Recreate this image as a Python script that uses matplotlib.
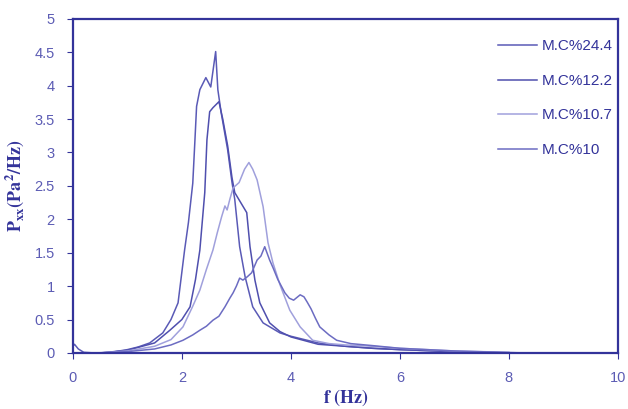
import matplotlib
matplotlib.use('Agg')
import matplotlib.pyplot as plt

# Power spectral density curves for four moisture contents
labels = ['M.C%24.4', 'M.C%12.2', 'M.C%10.7', 'M.C%10']

f_mc244 = [0.0, 0.03, 0.1, 0.2, 0.4, 0.7, 1.0, 1.2, 1.41, 1.65, 1.8, 1.93, 2.05, 2.12,
           2.2, 2.24, 2.27, 2.33, 2.44, 2.53, 2.62, 2.66, 2.72, 2.84, 2.92, 2.97,
           3.06, 3.16, 3.3, 3.49, 3.8, 4.0, 4.5, 5.0, 5.5, 6.0, 7.0, 8.0]
p_mc244 = [0.1, 0.13, 0.06, 0.01, 0.0, 0.01, 0.05, 0.09, 0.15, 0.3, 0.5, 0.75, 1.54, 1.95,
           2.54, 3.19, 3.69, 3.94, 4.12, 3.98, 4.51, 3.94, 3.6, 3.04, 2.55, 2.3,
           1.59, 1.14, 0.69, 0.45, 0.3, 0.25, 0.15, 0.1, 0.07, 0.05, 0.02, 0.0]

f_mc122 = [0.5, 1.0, 1.5, 1.78, 2.0, 2.15, 2.25, 2.33, 2.42, 2.46, 2.51, 2.57, 2.68,
           2.75, 2.84, 2.92, 2.97, 3.08, 3.19, 3.25, 3.34, 3.43, 3.61, 3.8, 4.0, 4.5,
           5.0, 5.5, 6.0, 7.0, 8.0]
p_mc122 = [0.0, 0.04, 0.15, 0.34, 0.5, 0.69, 1.1, 1.54, 2.4, 3.19, 3.61, 3.67, 3.76,
           3.5, 3.1, 2.62, 2.4, 2.25, 2.1, 1.59, 1.09, 0.75, 0.45, 0.32, 0.24, 0.13,
           0.1, 0.07, 0.05, 0.02, 0.0]

f_mc107 = [0.5, 1.0, 1.5, 1.8, 2.02, 2.2, 2.33, 2.45, 2.57, 2.65, 2.73, 2.79, 2.83,
           2.88, 2.94, 3.05, 3.15, 3.23, 3.3, 3.38, 3.49, 3.58, 3.67, 3.8, 3.98, 4.17,
           4.4, 4.7, 5.0, 5.5, 6.0, 7.0, 8.0]
p_mc107 = [0.0, 0.03, 0.1, 0.2, 0.39, 0.7, 0.94, 1.25, 1.54, 1.8, 2.04, 2.2, 2.14,
           2.3, 2.47, 2.55, 2.75, 2.85, 2.75, 2.59, 2.19, 1.65, 1.35, 1.02, 0.64, 0.39,
           0.19, 0.14, 0.12, 0.1, 0.07, 0.03, 0.01]

f_mc10 = [0.5, 1.0, 1.5, 1.8, 2.02, 2.2, 2.33, 2.45, 2.57, 2.68, 2.79, 2.88, 2.94, 3.0,
          3.06, 3.12, 3.2, 3.28, 3.38, 3.45, 3.52, 3.61, 3.67, 3.76, 3.89, 3.97, 4.05,
          4.17, 4.24, 4.3, 4.37, 4.45, 4.53, 4.7, 4.84, 5.1, 5.5, 6.0, 7.0, 8.3]
p_mc10 = [0.0, 0.02, 0.06, 0.12, 0.19, 0.27, 0.34, 0.4, 0.49, 0.55, 0.69, 0.82, 0.9, 1.0,
          1.12, 1.09, 1.14, 1.2, 1.39, 1.45, 1.59, 1.39, 1.28, 1.1, 0.9, 0.82, 0.79,
          0.87, 0.84, 0.76, 0.66, 0.52, 0.39, 0.27, 0.19, 0.14, 0.11, 0.07, 0.03, 0.0]

x_ticks = [0, 2, 4, 6, 8, 10]
y_ticks = [0, 0.5, 1, 1.5, 2, 2.5, 3, 3.5, 4, 4.5, 5]

axis_col = '#33339a'
tick_col = '#5c5cb4'
line_cols = ['#5a5ab6', '#4f4fae', '#a0a0dc', '#6c6cc2']

plt.rcParams['mathtext.fontset'] = 'stix'

fig = plt.figure(figsize=(6.28, 4.09), dpi=100)
ax = fig.add_axes([0.116, 0.137, 0.868, 0.817])

series = [(f_mc244, p_mc244), (f_mc122, p_mc122), (f_mc107, p_mc107), (f_mc10, p_mc10)]
for (f, p), lab, c in zip(series, labels, line_cols):
    ax.plot(f, p, color=c, lw=1.1, label=lab)

ax.set_xlim(0, 10)
ax.set_ylim(0, 5)
ax.set_xticks(x_ticks)
ax.set_xticklabels([str(t) for t in x_ticks])
ax.set_yticks(y_ticks)
ax.set_yticklabels(['%g' % t for t in y_ticks])

for s in ax.spines.values():
    s.set_color(axis_col)
    s.set_linewidth(1.6)
ax.tick_params(direction='out', length=4, width=0.8, color=axis_col,
               labelcolor=tick_col, labelsize=10.5, pad=9)
for lbl in ax.get_xticklabels() + ax.get_yticklabels():
    lbl.set_family('Liberation Sans')

ax.set_xlabel(r'$\mathbf{f\ (Hz)}$', color=axis_col, fontsize=13, labelpad=2)
ax.set_ylabel(r'$\mathbf{P_{xx}(Pa^2/Hz)}$', color=axis_col, fontsize=13, labelpad=6)

leg = ax.legend(loc='upper right', bbox_to_anchor=(1.016, 0.98), frameon=False,
                handlelength=2.6, handletextpad=0.3, labelspacing=1.35,
                prop={'family': 'Liberation Sans', 'size': 11})
for t in leg.get_texts():
    t.set_color(axis_col)

plt.savefig('out.png', dpi=100)
